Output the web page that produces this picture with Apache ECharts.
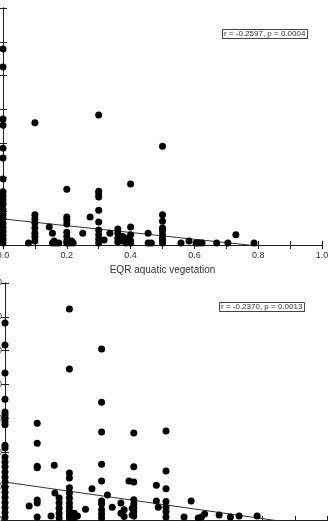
<!DOCTYPE html>
<html>
<head>
<meta charset="utf-8">
<script src="https://cdn.jsdelivr.net/npm/echarts@6/dist/echarts.min.js"></script>
<style>
  html, body { margin: 0; padding: 0; background: #fff; }
  #chart { width: 329px; height: 521px; }
</style>
</head>
<body>
<div id="chart"></div>
<script>
// x ticks / y ticks
var xTicks = [0, 0.1, 0.2, 0.3, 0.4, 0.5, 0.6, 0.7, 0.8, 0.9, 1.0];
var yMax = 70;

// upper panel: EQR aquatic vegetation
var topX = [
  0, 0, 0, 0, 0, 0, 0, 0, 0, 0, 0, 0, 0, 0, 0, 0, 0, 0, 0, 0,
  0.08,
  0.10, 0.10, 0.10, 0.10, 0.10, 0.10, 0.10, 0.10,
  0.145, 0.155, 0.155, 0.165, 0.175, 0.16,
  0.20, 0.20, 0.20, 0.20, 0.20, 0.20, 0.20, 0.20,
  0.21, 0.22, 0.215,
  0.25, 0.273,
  0.30, 0.30, 0.30, 0.30, 0.30, 0.30, 0.30, 0.30, 0.30, 0.30,
  0.317, 0.335,
  0.36, 0.36, 0.36, 0.36,
  0.375, 0.375, 0.385, 0.385, 0.39,
  0.40, 0.40, 0.40, 0.40, 0.40,
  0.455, 0.455, 0.465,
  0.50, 0.50, 0.50, 0.50, 0.50, 0.50, 0.50, 0.50, 0.50,
  0.558, 0.583, 0.605, 0.614, 0.624, 0.67, 0.705, 0.73, 0.787
];
var topY = [
  57.9, 52.6, 37.2, 35.4, 28.6, 25.7, 19.5, 15.7, 14.5, 13.3, 12.0, 10.5, 9.0, 7.8, 6.5, 5.2, 4.0, 2.8, 1.6, 0.6,
  0.6,
  36.1, 8.9, 7.7, 6.5, 5.0, 3.5, 2.4, 1.2,
  5.3, 3.5, 0.6, 0.6, 0.6, 1.2,
  16.5, 8.3, 7.4, 6.2, 3.8, 2.4, 1.2, 0.6,
  0.6, 0.6, 1.2,
  3.5, 8.3,
  38.4, 15.9, 15.1, 14.2, 10.3, 6.8, 4.4, 3.0, 1.8, 0.6,
  1.5, 3.5,
  4.7, 3.5, 2.0, 0.9,
  2.5, 1.2, 2.0, 0.6, 1.5,
  18.0, 5.3, 3.0, 1.2, 0.6,
  3.5, 0.6, 0.6,
  29.2, 8.9, 7.0, 5.0, 4.2, 3.0, 2.0, 1.2, 0.6,
  0.6, 1.2, 0.6, 0.6, 0.6, 0.6, 0.6, 3.0, 0.6
];

// lower panel
var bottomX = [
  0, 0, 0, 0, 0, 0, 0, 0, 0, 0, 0, 0, 0, 0, 0, 0, 0, 0, 0, 0, 0, 0, 0, 0,
  0.075,
  0.10, 0.10, 0.10, 0.10, 0.10, 0.10, 0.10,
  0.143, 0.153, 0.155,
  0.168, 0.168, 0.168, 0.168, 0.168,
  0.20, 0.20, 0.20, 0.20, 0.20, 0.20, 0.20, 0.20, 0.20, 0.20, 0.20, 0.20,
  0.215, 0.215, 0.225,
  0.25, 0.27,
  0.30, 0.30, 0.30, 0.30, 0.30, 0.30, 0.30, 0.30, 0.30, 0.30,
  0.318, 0.333,
  0.36, 0.36, 0.37, 0.37,
  0.385, 0.395, 0.395,
  0.40, 0.40, 0.40, 0.40, 0.40, 0.40, 0.40, 0.40,
  0.47, 0.47, 0.476,
  0.50, 0.50, 0.50, 0.50, 0.50, 0.50, 0.50,
  0.556, 0.578, 0.60, 0.61, 0.62, 0.665, 0.70, 0.727, 0.783
];
var bottomY = [
  58.2, 51.7, 43.4, 35.7, 31.9, 31.0, 30.1, 29.0, 28.1, 22.1, 21.3, 18.6, 17.1, 15.7, 14.2, 12.7, 11.2, 9.7, 8.2, 6.7, 5.2, 3.7, 2.2, 0.8,
  4.1,
  28.6, 22.7, 15.9, 15.4, 5.9, 5.0, 0.9,
  1.2, 16.2, 8.0,
  6.5, 5.0, 3.5, 2.0, 0.6,
  62.3, 44.6, 13.9, 12.4, 9.5, 8.0, 6.5, 5.0, 3.8, 2.6, 1.5, 0.6,
  2.0, 0.6, 1.2,
  3.2, 9.2,
  50.5, 34.8, 26.0, 16.5, 11.5, 5.6, 4.7, 3.0, 1.8, 0.6,
  7.4, 3.8,
  5.0, 2.0, 1.0, 3.0,
  11.5, 3.5, 1.5,
  25.7, 15.7, 11.2, 6.0, 4.7, 3.5, 2.4, 1.2,
  10.3, 5.6, 3.8,
  26.3, 14.5, 9.2, 5.5, 3.8, 2.4, 0.9,
  0.9, 5.6, 0.6, 0.9, 1.8, 1.5, 0.9, 1.2, 1.2
];

// regression lines (intercept, slope)
var fitIntercept = [7.7, 11.2];
var fitSlope = [-10.0, -13.5];
var statText = ['r = -0.2597, p = 0.0004', 'r = -0.2370, p = 0.0013'];
var xTitle = 'EQR aquatic vegetation';

var chart = echarts.init(document.getElementById('chart'), null, { renderer: 'canvas' });

function zip(xs, ys) {
  var out = [];
  for (var i = 0; i < xs.length; i++) out.push([xs[i], ys[i]]);
  return out;
}
function fitLine(k) {
  return [[0, fitIntercept[k]], [1, fitIntercept[k] + fitSlope[k]]];
}

var axisLine = { show: true, lineStyle: { color: '#222', width: 1 } };
var tickIn = { show: true, inside: true, length: 4, lineStyle: { color: '#222' } };

function xAxes(gridIndex, showName) {
  return [
    {
      type: 'value', gridIndex: gridIndex, position: 'bottom',
      min: 0, max: 1, interval: 0.1,
      axisLine: axisLine, axisTick: tickIn, splitLine: { show: false },
      axisLabel: {
        margin: 6, fontSize: 9, color: '#333', fontFamily: 'Liberation Sans',
        showMinLabel: true, showMaxLabel: true, hideOverlap: false,
        formatter: function (v) {
          var n = Math.round(v * 10);
          return n % 2 === 0 ? v.toFixed(1) : '';
        }
      },
      name: showName ? xTitle : '', nameLocation: 'middle', nameGap: 20,
      nameTextStyle: { fontSize: 10, color: '#333', fontFamily: 'Liberation Sans' }
    },
    {
      type: 'value', gridIndex: gridIndex, position: 'top',
      min: 0, max: 1, interval: 0.1,
      axisLine: axisLine, axisTick: tickIn, splitLine: { show: false },
      axisLabel: { show: false }
    }
  ];
}
function yAxes(gridIndex) {
  return [
    {
      type: 'value', gridIndex: gridIndex, position: 'left',
      min: 0, max: yMax, interval: 10,
      axisLine: axisLine, axisTick: tickIn, splitLine: { show: false },
      axisLabel: { margin: 3, fontSize: 9, color: '#333', fontFamily: 'Liberation Sans' }
    },
    {
      type: 'value', gridIndex: gridIndex, position: 'right',
      min: 0, max: yMax, interval: 10,
      axisLine: axisLine, axisTick: tickIn, splitLine: { show: false },
      axisLabel: { show: false }
    }
  ];
}

var dot = { symbol: 'circle', symbolSize: 7, itemStyle: { color: '#000', opacity: 1 } };

var option = {
  animation: false,
  backgroundColor: '#fff',
  title: [
    {
      text: statText[0], left: 222, top: 29, padding: [1, 2],
      borderColor: '#444', borderWidth: 1, backgroundColor: '#fff',
      textStyle: { fontSize: 8, fontWeight: 'normal', color: '#333', fontFamily: 'Liberation Sans' }
    },
    {
      text: statText[1], left: 219, top: 302, padding: [1, 2],
      borderColor: '#444', borderWidth: 1, backgroundColor: '#fff',
      textStyle: { fontSize: 8, fontWeight: 'normal', color: '#333', fontFamily: 'Liberation Sans' }
    }
  ],
  grid: [
    { left: 3, right: 7, top: 8, height: 237, containLabel: false, outerBoundsMode: 'none' },
    { left: 5, right: 2, top: 283, height: 237, containLabel: false, outerBoundsMode: 'none' }
  ],
  xAxis: xAxes(0, true).concat(xAxes(1, false)),
  yAxis: yAxes(0).concat(yAxes(1)),
  series: [
    { type: 'line', xAxisIndex: 0, yAxisIndex: 0, data: fitLine(0), symbol: 'none', clip: true,
      lineStyle: { color: '#333', width: 1 }, z: 1 },
    Object.assign({ type: 'scatter', xAxisIndex: 0, yAxisIndex: 0, data: zip(topX, topY), clip: false, z: 2 }, dot),
    { type: 'line', xAxisIndex: 2, yAxisIndex: 2, data: fitLine(1), symbol: 'none', clip: true,
      lineStyle: { color: '#333', width: 1 }, z: 1 },
    Object.assign({ type: 'scatter', xAxisIndex: 2, yAxisIndex: 2, data: zip(bottomX, bottomY), clip: false, z: 2 }, dot)
  ]
};

chart.setOption(option);
</script>
</body>
</html>
